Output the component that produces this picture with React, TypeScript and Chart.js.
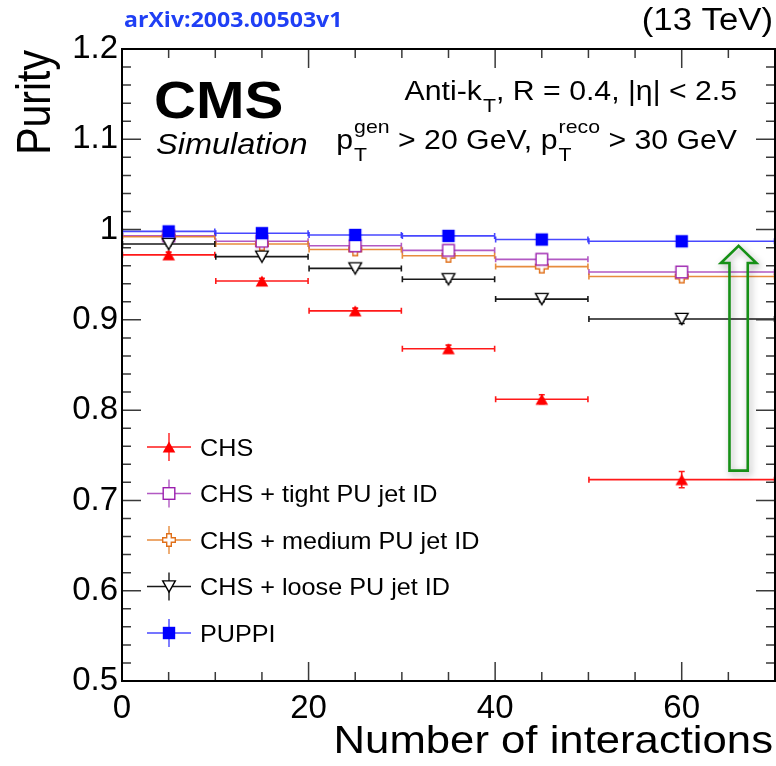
import React, { useEffect, useRef } from "react";
import { Chart, registerables } from "chart.js";

Chart.register(...registerables);

// Pile-up bins (number of interactions)
const binLow = [0, 10, 20, 30, 40, 50];
const binHigh = [10, 20, 30, 40, 50, 70];
const binCenter = [5, 15, 25, 35, 45, 60];

// Jet purity per pile-up bin
const chsPurity = [0.972, 0.943, 0.91, 0.868, 0.812, 0.723];
const chsError = [0.003, 0.003, 0.003, 0.004, 0.005, 0.009];
const tightPurity = [0.993, 0.987, 0.982, 0.977, 0.967, 0.953];
const tightError = [0.002, 0.002, 0.002, 0.002, 0.003, 0.004];
const mediumPurity = [0.992, 0.984, 0.978, 0.971, 0.959, 0.948];
const mediumError = [0.002, 0.002, 0.002, 0.002, 0.003, 0.004];
const loosePurity = [0.984, 0.97, 0.957, 0.945, 0.923, 0.901];
const looseError = [0.002, 0.002, 0.002, 0.003, 0.003, 0.005];
const puppiPurity = [0.998, 0.996, 0.994, 0.993, 0.989, 0.987];
const puppiError = [0.001, 0.001, 0.001, 0.001, 0.002, 0.002];

const seriesLabels = [
  "CHS",
  "CHS + tight PU jet ID",
  "CHS + medium PU jet ID",
  "CHS + loose PU jet ID",
  "PUPPI",
];

// Axis ticks
const xTickValues = [0, 20, 40, 60];
const xTickLabels = ["0", "20", "40", "60"];
const yTickValues = [0.5, 0.6, 0.7, 0.8, 0.9, 1.0, 1.1, 1.2];
const yTickLabels = ["0.5", "0.6", "0.7", "0.8", "0.9", "1", "1.1", "1.2"];

// Hollow arrow marking the purity gain (axis units)
const arrowX = 66.1;
const arrowTipY = 0.982;
const arrowHeadBaseY = 0.963;
const arrowBottomY = 0.733;
const arrowShaftHalf = 0.98;
const arrowHeadHalf = 1.9;

const SANS = '"Liberation Sans", Arial, Helvetica, sans-serif';
const SX = 1.12; // horizontal text stretch

type MarkerKind = "triUp" | "openSquare" | "openCross" | "openTriDown" | "square";
type Style = { color: string; line: string; marker: MarkerKind };

const styles: Style[] = [
  { color: "#ff0000", line: "rgba(255,0,0,0.9)", marker: "triUp" },
  { color: "#9b1fae", line: "rgba(165,60,185,0.85)", marker: "openSquare" },
  { color: "#e0701a", line: "rgba(228,128,40,0.9)", marker: "openCross" },
  { color: "#000000", line: "rgba(0,0,0,0.9)", marker: "openTriDown" },
  { color: "#0000ff", line: "rgba(40,40,255,0.85)", marker: "square" },
];

const seriesValues = [chsPurity, tightPurity, mediumPurity, loosePurity, puppiPurity];
const seriesErrors = [chsError, tightError, mediumError, looseError, puppiError];

function crossPath(ctx: CanvasRenderingContext2D, cx: number, cy: number, h: number, a: number) {
  const pts = [
    [-a, -h], [a, -h], [a, -a], [h, -a], [h, a], [a, a],
    [a, h], [-a, h], [-a, a], [-h, a], [-h, -a], [-a, -a],
  ];
  ctx.beginPath();
  pts.forEach(([px, py], i) => {
    if (i === 0) ctx.moveTo(cx + px, cy + py);
    else ctx.lineTo(cx + px, cy + py);
  });
  ctx.closePath();
}

// Markers are centred on their bounding box
function drawMarker(ctx: CanvasRenderingContext2D, kind: MarkerKind, color: string, x: number, y: number) {
  ctx.save();
  ctx.lineWidth = 1.4;
  ctx.strokeStyle = color;
  ctx.fillStyle = color;
  if (kind === "square") {
    ctx.fillRect(x - 6.2, y - 6.2, 12.4, 12.4);
  } else if (kind === "openSquare") {
    ctx.fillStyle = "#fff";
    ctx.fillRect(x - 5.8, y - 5.8, 11.6, 11.6);
    ctx.strokeRect(x - 5.8, y - 5.8, 11.6, 11.6);
  } else if (kind === "openCross") {
    crossPath(ctx, x, y, 6.3, 2.3);
    ctx.fillStyle = "#fff";
    ctx.fill();
    ctx.stroke();
  } else if (kind === "triUp") {
    const hw = 6.3;
    const hh = 5.6;
    ctx.beginPath();
    ctx.moveTo(x, y - hh);
    ctx.lineTo(x + hw, y + hh);
    ctx.lineTo(x - hw, y + hh);
    ctx.closePath();
    ctx.fill();
  } else if (kind === "openTriDown") {
    const hw = 6.3;
    const hh = 5.6;
    ctx.beginPath();
    ctx.moveTo(x, y + hh);
    ctx.lineTo(x + hw, y - hh);
    ctx.lineTo(x - hw, y - hh);
    ctx.closePath();
    ctx.fillStyle = "#fff";
    ctx.fill();
    ctx.stroke();
  }
  ctx.restore();
}

function markerImage(kind: MarkerKind, color: string): HTMLCanvasElement {
  const c = document.createElement("canvas");
  c.width = 18;
  c.height = 18;
  const g = c.getContext("2d")!;
  drawMarker(g, kind, color, 9, 9);
  return c;
}

function stretchedText(
  ctx: CanvasRenderingContext2D,
  text: string,
  x: number,
  y: number,
  font: string,
  align: "left" | "right",
  color = "#000",
  sx = SX
) {
  ctx.save();
  ctx.font = font;
  ctx.fillStyle = color;
  ctx.textAlign = "left";
  ctx.textBaseline = "alphabetic";
  const w = ctx.measureText(text).width * sx;
  ctx.translate(align === "left" ? x : x - w, y);
  ctx.scale(sx, 1);
  ctx.fillText(text, 0, 0);
  ctx.restore();
}

type Seg = { t?: string; sup?: string; sub?: string };

// Text with sub/superscripts, right-aligned at xRight
function richText(ctx: CanvasRenderingContext2D, segs: Seg[], xRight: number, base: number, size: number) {
  const main = `${size}px ${SANS}`;
  const small = `${Math.round(size * 0.72)}px ${SANS}`;
  ctx.save();
  ctx.fillStyle = "#000";
  ctx.textBaseline = "alphabetic";
  const widths = segs.map((s) => {
    if (s.t !== undefined) {
      ctx.font = main;
      return ctx.measureText(s.t).width;
    }
    ctx.font = small;
    return Math.max(s.sup ? ctx.measureText(s.sup).width : 0, s.sub ? ctx.measureText(s.sub).width : 0) + 1;
  });
  const total = widths.reduce((a, b) => a + b, 0);
  ctx.translate(xRight - total * SX, base);
  ctx.scale(SX, 1);
  let x = 0;
  segs.forEach((s, i) => {
    if (s.t !== undefined) {
      ctx.font = main;
      ctx.fillText(s.t, x, 0);
    } else {
      ctx.font = small;
      if (s.sup) ctx.fillText(s.sup, x + 1, -size * 0.6);
      if (s.sub) ctx.fillText(s.sub, x + 1, size * 0.45);
    }
    x += widths[i];
  });
  ctx.restore();
}

const errorBarsPlugin = {
  id: "binErrorBars",
  beforeDatasetsDraw(chart: any) {
    const { ctx } = chart;
    const xs = chart.scales.x;
    const ys = chart.scales.y;
    ctx.save();
    ctx.beginPath();
    ctx.rect(chart.chartArea.left, chart.chartArea.top, chart.chartArea.width, chart.chartArea.height);
    ctx.clip();
    seriesValues.forEach((vals, s) => {
      ctx.strokeStyle = styles[s].line;
      ctx.lineWidth = 1.6;
      vals.forEach((v, i) => {
        const y = ys.getPixelForValue(v);
        const x0 = xs.getPixelForValue(binLow[i]);
        const x1 = xs.getPixelForValue(binHigh[i]);
        const xc = xs.getPixelForValue(binCenter[i]);
        const yHi = ys.getPixelForValue(v + seriesErrors[s][i]);
        const yLo = ys.getPixelForValue(v - seriesErrors[s][i]);
        ctx.beginPath();
        ctx.moveTo(x0, y);
        ctx.lineTo(x1, y);
        // end caps
        ctx.moveTo(x0 + 0.5, y - 3);
        ctx.lineTo(x0 + 0.5, y + 3);
        ctx.moveTo(x1 - 0.5, y - 3);
        ctx.lineTo(x1 - 0.5, y + 3);
        // vertical error
        ctx.moveTo(xc, yHi);
        ctx.lineTo(xc, yLo);
        ctx.moveTo(xc - 3, yHi);
        ctx.lineTo(xc + 3, yHi);
        ctx.moveTo(xc - 3, yLo);
        ctx.lineTo(xc + 3, yLo);
        ctx.stroke();
      });
    });
    ctx.restore();
  },
};

const framePlugin = {
  id: "frameAndDecor",
  afterDatasetsDraw(chart: any) {
    const { ctx, chartArea: a } = chart;
    const xs = chart.scales.x;
    const ys = chart.scales.y;
    ctx.save();
    // inward ticks on all four sides
    ctx.strokeStyle = "#3a3a3a";
    ctx.lineWidth = 1.5;
    ctx.beginPath();
    for (let k = 0; k <= 14; k++) {
      const v = k * 5;
      const px = xs.getPixelForValue(v);
      const len = v % 20 === 0 ? 19 : 9;
      ctx.moveTo(px, a.bottom);
      ctx.lineTo(px, a.bottom - len);
      ctx.moveTo(px, a.top);
      ctx.lineTo(px, a.top + len);
    }
    for (let k = 0; k <= 35; k++) {
      const v = 0.5 + k * 0.02;
      const py = ys.getPixelForValue(v);
      const len = k % 5 === 0 ? 19 : 9;
      ctx.moveTo(a.left, py);
      ctx.lineTo(a.left + len, py);
      ctx.moveTo(a.right, py);
      ctx.lineTo(a.right - len, py);
    }
    ctx.stroke();
    // frame
    ctx.strokeStyle = "#000";
    ctx.lineWidth = 2;
    ctx.strokeRect(a.left, a.top, a.right - a.left, a.bottom - a.top);

    // hollow green arrow
    const cx = xs.getPixelForValue(arrowX);
    const sh = xs.getPixelForValue(arrowX + arrowShaftHalf) - cx;
    const hh = xs.getPixelForValue(arrowX + arrowHeadHalf) - cx;
    const tip = ys.getPixelForValue(arrowTipY);
    const hb = ys.getPixelForValue(arrowHeadBaseY);
    const bot = ys.getPixelForValue(arrowBottomY);
    ctx.beginPath();
    ctx.moveTo(cx, tip);
    ctx.lineTo(cx + hh, hb);
    ctx.lineTo(cx + sh, hb);
    ctx.lineTo(cx + sh, bot);
    ctx.lineTo(cx - sh, bot);
    ctx.lineTo(cx - sh, hb);
    ctx.lineTo(cx - hh, hb);
    ctx.closePath();
    ctx.shadowColor = "rgba(0,0,0,0.35)";
    ctx.shadowBlur = 7;
    ctx.shadowOffsetX = 2;
    ctx.shadowOffsetY = 3;
    ctx.strokeStyle = "#169016";
    ctx.lineWidth = 2.6;
    ctx.stroke();
    ctx.restore();
  },
  afterDraw(chart: any) {
    const { ctx } = chart;
    // legend
    const rows = [447, 493.5, 540, 586.5, 633];
    const mx = 169;
    seriesLabels.forEach((label, i) => {
      const y = rows[i];
      ctx.save();
      ctx.strokeStyle = styles[i].line;
      ctx.lineWidth = 1.4;
      ctx.beginPath();
      ctx.moveTo(mx - 22, y);
      ctx.lineTo(mx + 22, y);
      ctx.moveTo(mx, y - 14);
      ctx.lineTo(mx, y + 14);
      ctx.stroke();
      ctx.restore();
      drawMarker(ctx, styles[i].marker, styles[i].color, mx, y);
      stretchedText(ctx, label, 200, y + 8.5, `24px ${SANS}`, "left", "#000", 1.05);
    });

    // axis titles
    ctx.save();
    ctx.font = `41px ${SANS}`;
    ctx.fillStyle = "#000";
    const w = ctx.measureText("Purity").width;
    ctx.translate(50, 50);
    ctx.scale(1.15, 1);
    ctx.rotate(-Math.PI / 2);
    ctx.textBaseline = "alphabetic";
    ctx.fillText("Purity", -w, 0);
    ctx.restore();
    stretchedText(ctx, "Number of interactions", 773, 753, `39px ${SANS}`, "right");

    // labels
    stretchedText(ctx, "CMS", 154, 118, `bold 52px ${SANS}`, "left");
    stretchedText(ctx, "Simulation", 156, 154, `italic 29px ${SANS}`, "left");
    richText(ctx, [{ t: "Anti-k" }, { sub: "T" }, { t: ", R = 0.4, |η| < 2.5" }], 737, 100, 27);
    richText(
      ctx,
      [{ t: "p" }, { sup: "gen", sub: "T" }, { t: " > 20 GeV, p" }, { sup: "reco", sub: "T" }, { t: " > 30 GeV" }],
      737,
      149,
      27
    );
    stretchedText(ctx, "(13 TeV)", 773, 30, `31px ${SANS}`, "right");
    stretchedText(ctx, "arXiv:2003.00503v1", 124, 27, `bold 21px "Open Sans", ${SANS}`, "left", "#1f3ff5", 1.1);
  },
};

export default function App() {
  const ref = useRef<HTMLCanvasElement | null>(null);

  useEffect(() => {
    if (!ref.current) return;
    // draw order: PUPPI on top, then medium, tight, loose, CHS
    const drawOrder = [4, 2, 3, 1, 0];
    const datasets = seriesValues.map((vals, s) => ({
      label: seriesLabels[s],
      data: vals.map((v, i) => ({ x: binCenter[i], y: v })),
      showLine: false,
      pointStyle: markerImage(styles[s].marker, styles[s].color) as any,
      pointRadius: 8,
      order: drawOrder[s],
    }));

    const chart = new Chart(ref.current, {
      type: "scatter",
      data: { datasets },
      options: {
        animation: false,
        responsive: false,
        devicePixelRatio: 1,
        layout: { autoPadding: false, padding: { top: 49, right: 1, left: 0, bottom: 0 } },
        plugins: { legend: { display: false }, tooltip: { enabled: false } },
        scales: {
          x: {
            type: "linear",
            min: 0,
            max: 70,
            grid: { display: false, drawTicks: false },
            border: { display: false },
            afterBuildTicks: (scale: any) => {
              scale.ticks = xTickValues.map((v) => ({ value: v }));
            },
            afterFit: (scale: any) => {
              scale.height = 85;
              scale.paddingLeft = 0;
              scale.paddingRight = 0;
            },
            ticks: {
              autoSkip: false,
              maxRotation: 0,
              padding: 8,
              color: "#000",
              font: { family: SANS, size: 33 },
              callback: (v: any) => {
                const i = xTickValues.indexOf(Number(v));
                return i >= 0 ? xTickLabels[i] : "";
              },
            },
          },
          y: {
            type: "linear",
            min: 0.5,
            max: 1.2,
            grid: { display: false, drawTicks: false },
            border: { display: false },
            afterBuildTicks: (scale: any) => {
              scale.ticks = yTickValues.map((v) => ({ value: v }));
            },
            afterFit: (scale: any) => {
              scale.width = 122;
              scale.paddingTop = 0;
              scale.paddingBottom = 0;
            },
            ticks: {
              autoSkip: false,
              padding: 4,
              color: "#000",
              font: { family: SANS, size: 33 },
              callback: (v: any) => {
                const i = yTickValues.findIndex((t) => Math.abs(t - Number(v)) < 1e-6);
                return i >= 0 ? yTickLabels[i] : "";
              },
            },
          },
        },
      },
      plugins: [errorBarsPlugin, framePlugin],
    });
    return () => chart.destroy();
  }, []);

  return (
    <div style={{ position: "absolute", left: 0, top: 0, width: 776, height: 766, background: "#fff" }}>
      <canvas ref={ref} width={776} height={766} style={{ display: "block" }} />
    </div>
  );
}
